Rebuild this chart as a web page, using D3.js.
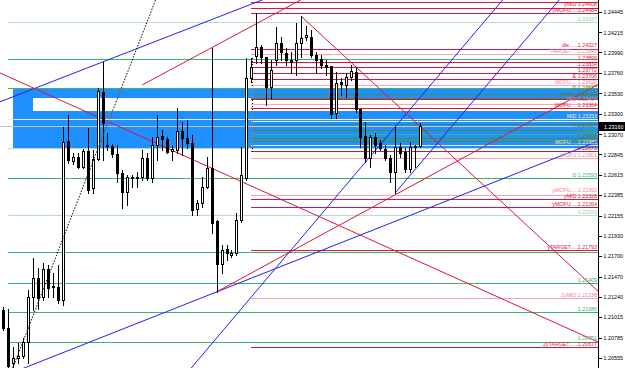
<!DOCTYPE html>
<html>
<head>
<meta charset="utf-8">
<script src="https://cdn.jsdelivr.net/npm/d3@7"></script>
<style>
  html, body { margin: 0; padding: 0; background: #fff; }
  #chart { width: 625px; height: 368px; overflow: hidden; }
  text { font-family: "Liberation Sans", Arial, sans-serif; }
</style>
</head>
<body>
<div id="chart"></div>
<script>
// ── Candles (one per bar index) ────────────────────────────────
const opens = [1.21096,1.20893,1.20500,1.20556,1.20579,1.20736,1.21242,1.21455,1.21242,1.21556,
  1.21365,1.21354,1.21208,1.22995,1.22770,1.22815,1.22703,1.22883,1.22467,1.22793,
  1.23546,1.22950,1.22939,1.22849,1.22636,1.22422,1.22579,1.22579,1.22591,1.22804,
  1.22579,1.22950,1.23051,1.23018,1.22883,1.22894,1.23108,1.23029,1.22973,1.22231,
  1.22298,1.22478,1.22692,1.22096,1.21613,1.21781,1.21714,1.21736,1.22107,1.22579,
  1.23703,1.23951,1.24052,1.23939,1.23602,1.23906,1.24097,1.23984,1.23906,1.23906,
  1.24097,1.24164,1.24164,1.23962,1.23917,1.23849,1.23838,1.23310,1.23658,1.23625,
  1.23715,1.23771,1.23355,1.23051,1.22804,1.23040,1.22973,1.22905,1.22804,1.22647,
  1.22928,1.22872,1.22680,1.22928,1.22939];
const highs = [1.21129,1.21107,1.20680,1.20725,1.20781,1.21320,1.21680,1.21568,1.21624,1.21601,
  1.21512,1.21601,1.23153,1.23287,1.22860,1.22860,1.22905,1.23141,1.22894,1.23591,
  1.23883,1.23085,1.22961,1.22950,1.22669,1.22613,1.22613,1.22647,1.22894,1.22860,
  1.23040,1.23287,1.23119,1.23040,1.22950,1.23366,1.23209,1.23231,1.23063,1.22332,
  1.22591,1.22815,1.24041,1.22107,1.21826,1.21826,1.21770,1.22186,1.22928,1.23928,
  1.23928,1.24434,1.24074,1.23939,1.23906,1.24277,1.24164,1.24041,1.23996,1.24322,
  1.24400,1.24288,1.24243,1.23996,1.23962,1.23906,1.23838,1.23771,1.23703,1.23760,
  1.23849,1.23827,1.23355,1.23209,1.23063,1.23085,1.23006,1.22950,1.22838,1.23153,
  1.22973,1.22917,1.22984,1.22950,1.23198];
const lows = [1.20871,1.20444,1.20444,1.20500,1.20556,1.20500,1.21096,1.21107,1.21208,1.21242,
  1.21242,1.21174,1.21152,1.22748,1.22737,1.22692,1.22692,1.22411,1.22411,1.22782,
  1.22782,1.22894,1.22815,1.22534,1.22242,1.22276,1.22478,1.22478,1.22557,1.22557,
  1.22534,1.22782,1.22894,1.22860,1.22782,1.22860,1.22838,1.22917,1.22163,1.22163,
  1.22253,1.22467,1.21961,1.21298,1.21512,1.21658,1.21691,1.21714,1.22085,1.22557,
  1.23658,1.23872,1.23872,1.23400,1.23479,1.23849,1.23906,1.23849,1.23760,1.23737,
  1.23939,1.24130,1.23939,1.23760,1.23816,1.23737,1.23254,1.23254,1.23512,1.23490,
  1.23681,1.23321,1.22928,1.22759,1.22703,1.22860,1.22894,1.22782,1.22534,1.22411,
  1.22815,1.22647,1.22647,1.22703,1.22928];
const closes = [1.20893,1.20466,1.20556,1.20579,1.20736,1.21242,1.21455,1.21231,1.21556,1.21343,
  1.21354,1.21208,1.22984,1.22782,1.22815,1.22703,1.22883,1.22444,1.22793,1.23557,
  1.23198,1.22939,1.22849,1.22636,1.22422,1.22591,1.22591,1.22591,1.22804,1.22579,
  1.22950,1.23040,1.23018,1.22872,1.22905,1.23108,1.23029,1.22973,1.22220,1.22298,
  1.22478,1.22692,1.22074,1.21613,1.21770,1.21736,1.21736,1.22107,1.22613,1.23703,
  1.23827,1.24052,1.23939,1.23602,1.23793,1.24097,1.23996,1.23906,1.23883,1.24097,
  1.24153,1.24187,1.23962,1.23906,1.23849,1.23827,1.23299,1.23647,1.23636,1.23715,
  1.23782,1.23355,1.23040,1.22804,1.23040,1.22950,1.22917,1.22804,1.22647,1.22928,
  1.22860,1.22680,1.22928,1.22939,1.23160];
const lastPrice = 1.23160;

// ── Price axis ticks ───────────────────────────────────────────
const tickValues = [1.24445,1.24215,1.23990,1.23760,1.23530,1.23300,1.23070,1.22845,1.22615,
  1.22385,1.22155,1.21930,1.21700,1.21470,1.21240,1.21015,1.20785,1.20555];

// ── Horizontal levels from the separator bar (index 50) ─────────
const lateLevelPrices = [1.24561,1.24487,1.24430,1.24026,1.23970,1.23887,1.23830,1.23763,1.23689,1.23625,
  1.23527,1.23481,1.23467,1.23411,1.23366,1.23218,1.23182,1.23113,1.23074,1.23029,
  1.22995,1.22954,1.22877,1.22804,1.22388,1.22337,1.22256,1.21770,1.21231,1.20680];
const lateLevelKinds = ['red','red','red','red','pink','red','red','red','red','pink',
  'olive','olive','red','pink','red','cream','olive','olive','green','olive',
  'olive','cream','red','pink','pink','red','red','red','pink','red'];
const lateLevelLabels = ['','yMID 1.24608','yMOFU.....1.24484','dle......1.24027','TARGET.....1.23943',
  '1.23899','1.23834','1.23772','E 1.23706','MOFU.....1.23626',
  'D 1.23577','MOFU 1.23482','','MID 1.23414','MOFU.....1.23364','','','A 1.23127','1.23066','',
  '1.23000','MOFU.....1.22955','1.22873','MOFU 1.22801','yMOFU.....1.22392','yMID 1.22328',
  'yMOFU.....1.22264','yTARGET.....1.21793','2yMID 1.21238','2yTARGET......1.20677'];

// ── Horizontal levels from bar index 1 ─────────────────────────
const earlyLevelPrices = [1.24333,1.23917,1.23591,1.23245,1.22917,1.22579,1.22163,1.21748,1.21399,1.21073,1.20736];
const earlyLevelKinds = ['pale','green','green','cream','pale','green','pale','green','green','green','green'];
const earlyLevelLabels = ['1.24337','','','MID 1.23253','','D 1.22593','1.22163','','1.21409','1.21086','1.20751'];

// ── Zones: start bar, top and bottom price ─────────────────────
const zoneStarts = [2, 6];
const zoneTops = [1.23591, 1.23479];
const zoneBottoms = [1.22917, 1.23333];
const zoneKinds = ['blue', 'white'];

// ── Trend lines: [idx1, price1, idx2, price2] ──────────────────
const trendPoints = [
  [20, 1.23883, 51, 1.24555],
  [43, 1.21298, 84, 1.22202],
  [38, 1.20450, 79, 1.23153],
  [79, 1.22411, 84, 1.22739],
  [0, 1.23743, 84, 1.21635],
  [60, 1.24400, 84, 1.23160],
  [43, 1.21298, 79, 1.22390],
  [28, 1.23625, 50, 1.24283],
  [2, 1.20456, 30, 1.24480]
];
const trendKinds = ['blue','blue','blue','blue','red','red','red','red','dot'];
const trendBothWays = [true, true, true, false, true, false, false, false, true];

// separator bar and its span
const sepIndex = 50;
const sepPrices = [1.23928, 1.22872];

// ── Styles ─────────────────────────────────────────────────────
const lineColor = {
  red: '#dc143c', pink: '#f5a5b3', green: '#3cb371', pale: '#b2e0c0',
  olive: '#4f8a3a', cream: '#e4efc6', blue: '#1f1fff'
};
const labelColor = {
  red: '#dc143c', pink: '#f08496', green: '#3cb371', pale: '#8fd0a6',
  olive: '#5e7f2a', cream: '#f0f0b0'
};
const zoneColor = { blue: '#1e90ff', white: '#ffffff' };

const W = 625, H = 368, plotRight = 598;

const svg = d3.select('#chart').append('svg')
  .attr('width', W).attr('height', H)
  .style('display', 'block');

const x = d3.scaleLinear().domain([0, 84]).range([3.3, 420]);
const y = d3.scaleLinear().domain([1.24445, 1.20555]).range([12, 358]);
const px = i => Math.round(x(i));
const py = p => Math.round(y(p)) + 0.5;

const defs = svg.append('defs');
defs.append('clipPath').attr('id', 'plot-clip')
  .append('rect').attr('x', 0).attr('y', 0).attr('width', plotRight).attr('height', H);

// blue part of the zone (outer rect minus inner white stripe)
const zx0 = px(zoneStarts[0]), zx1 = px(zoneStarts[1]);
const zyT = Math.round(y(zoneTops[0])), zyB = Math.round(y(zoneBottoms[0]));
const wyT = Math.round(y(zoneTops[1])), wyB = Math.round(y(zoneBottoms[1]));
const blueClip = defs.append('clipPath').attr('id', 'blue-clip');
[[zx0, zyT, plotRight - zx0, wyT - zyT],
 [zx0, wyB, plotRight - zx0, zyB - wyB],
 [zx0, wyT, zx1 - zx0, wyB - wyT]].forEach(r => {
  blueClip.append('rect').attr('x', r[0]).attr('y', r[1]).attr('width', r[2]).attr('height', r[3]);
});

const plot = svg.append('g').attr('clip-path', 'url(#plot-clip)');

// 1) zones
plot.selectAll('.zone')
  .data(zoneStarts.map((s, k) => ({ s, top: zoneTops[k], bot: zoneBottoms[k], kind: zoneKinds[k] })))
  .join('rect')
  .attr('class', 'zone')
  .attr('x', d => px(d.s))
  .attr('y', d => Math.round(y(d.top)))
  .attr('width', d => plotRight - px(d.s))
  .attr('height', d => Math.round(y(d.bot)) - Math.round(y(d.top)))
  .attr('fill', d => zoneColor[d.kind]);

// 2) horizontal levels
const levels = [
  ...earlyLevelPrices.map((p, k) => ({ p, kind: earlyLevelKinds[k], label: earlyLevelLabels[k], start: 1 })),
  ...lateLevelPrices.map((p, k) => ({ p, kind: lateLevelKinds[k], label: lateLevelLabels[k], start: sepIndex }))
];

plot.selectAll('.lvl')
  .data(levels).join('line')
  .attr('class', 'lvl')
  .attr('x1', d => px(d.start)).attr('x2', plotRight)
  .attr('y1', d => py(d.p)).attr('y2', d => py(d.p))
  .attr('stroke', d => lineColor[d.kind])
  .attr('stroke-width', 1)
  .attr('shape-rendering', 'crispEdges');

// last price line
plot.append('line')
  .attr('x1', 0).attr('x2', plotRight)
  .attr('y1', py(lastPrice)).attr('y2', py(lastPrice))
  .attr('stroke', '#c0c0c0').attr('shape-rendering', 'crispEdges');

// 3) trend lines (rays or full lines, clipped to the plot)
const trends = trendPoints.map((t, k) => {
  const x1 = x(t[0]), y1 = y(t[1]), x2 = x(t[2]), y2 = y(t[3]);
  const m = (y2 - y1) / (x2 - x1);
  const xs = trendBothWays[k] ? -200 : x1;
  const xe = plotRight + 200;
  return { kind: trendKinds[k], xs, ys: y1 + m * (xs - x1), xe, ye: y1 + m * (xe - x1) };
});

plot.selectAll('.trend')
  .data(trends.filter(d => d.kind !== 'dot')).join('line')
  .attr('class', 'trend')
  .attr('x1', d => d.xs).attr('y1', d => d.ys)
  .attr('x2', d => d.xe).attr('y2', d => d.ye)
  .attr('stroke', d => lineColor[d.kind])
  .attr('stroke-width', 1);

// 4) candles
const candles = opens.map((o, i) => ({ i, o, h: highs[i], l: lows[i], c: closes[i] }));
const cg = plot.append('g');

cg.selectAll('.wick')
  .data(candles).join('line')
  .attr('class', 'wick')
  .attr('x1', d => px(d.i) + 0.5).attr('x2', d => px(d.i) + 0.5)
  .attr('y1', d => Math.round(y(d.h))).attr('y2', d => Math.round(y(d.l)) + 1)
  .attr('stroke', '#000').attr('shape-rendering', 'crispEdges');

cg.selectAll('.body')
  .data(candles).join('rect')
  .attr('class', 'body')
  .attr('x', d => px(d.i) - 0.5)
  .attr('width', 2)
  .attr('y', d => py(Math.max(d.o, d.c)))
  .attr('height', d => Math.max(0.01, py(Math.min(d.o, d.c)) - py(Math.max(d.o, d.c))))
  .attr('fill', d => d.c >= d.o ? '#fff' : '#000')
  .attr('stroke', '#000')
  .attr('shape-rendering', 'crispEdges');

// 5) dotted lines: black on white, orange where they cross the blue zone
const dot = trends.find(d => d.kind === 'dot');
function dottedLines(g, colour) {
  g.append('line')
    .attr('x1', dot.xs).attr('y1', dot.ys).attr('x2', dot.xe).attr('y2', dot.ye)
    .attr('stroke', colour).attr('stroke-dasharray', '1.5,1.5');
  g.append('line')
    .attr('x1', px(sepIndex) + 1.5).attr('x2', px(sepIndex) + 1.5)
    .attr('y1', y(sepPrices[0])).attr('y2', y(sepPrices[1]))
    .attr('stroke', colour).attr('stroke-dasharray', '1.5,1.5')
    .attr('shape-rendering', 'crispEdges');
}
dottedLines(plot.append('g'), '#000');
dottedLines(plot.append('g').attr('clip-path', 'url(#blue-clip)'), '#e8801c');

// 6) level labels, right-aligned above their line; crowded ones are nudged up
const labelMinGap = 5.6;
const labelled = levels.filter(d => d.label)
  .map(d => ({ ...d, ly: Math.round(y(d.p)) - 1 }))
  .sort((a, b) => b.ly - a.ly);
for (let k = 1; k < labelled.length; k++) {
  const below = labelled[k - 1];
  if (below.ly - labelled[k].ly < labelMinGap) labelled[k].ly = below.ly - labelMinGap;
}

plot.selectAll('.lvl-label')
  .data(labelled).join('text')
  .attr('class', 'lvl-label')
  .attr('x', plotRight - 1)
  .attr('y', d => d.ly)
  .attr('text-anchor', 'end')
  .attr('font-size', 5.3)
  .attr('fill', d => labelColor[d.kind])
  .text(d => d.label);

// ── Price axis ────────────────────────────────────────────────
svg.append('line')
  .attr('x1', plotRight + 0.5).attr('x2', plotRight + 0.5)
  .attr('y1', 0).attr('y2', H)
  .attr('stroke', '#000').attr('shape-rendering', 'crispEdges');

const axis = svg.append('g')
  .attr('transform', `translate(${plotRight + 0.5},0)`)
  .call(d3.axisRight(y).tickValues(tickValues).tickFormat(d3.format('.5f')).tickSize(3).tickPadding(2));
axis.select('.domain').remove();
axis.selectAll('.tick line').attr('stroke', '#000').attr('shape-rendering', 'crispEdges');
axis.selectAll('.tick text')
  .attr('font-size', 5.4)
  .attr('font-family', '"Liberation Sans", Arial, sans-serif')
  .attr('fill', '#000');

// last price tag
const tag = svg.append('g').attr('transform', `translate(${plotRight + 1},${Math.round(y(lastPrice))})`);
tag.append('rect').attr('x', 0).attr('y', -4).attr('width', 26).attr('height', 9).attr('fill', '#000');
tag.append('text').attr('x', 5).attr('y', 2.5)
  .attr('font-size', 5.4).attr('fill', '#fff')
  .text(d3.format('.5f')(lastPrice));
</script>
</body>
</html>
